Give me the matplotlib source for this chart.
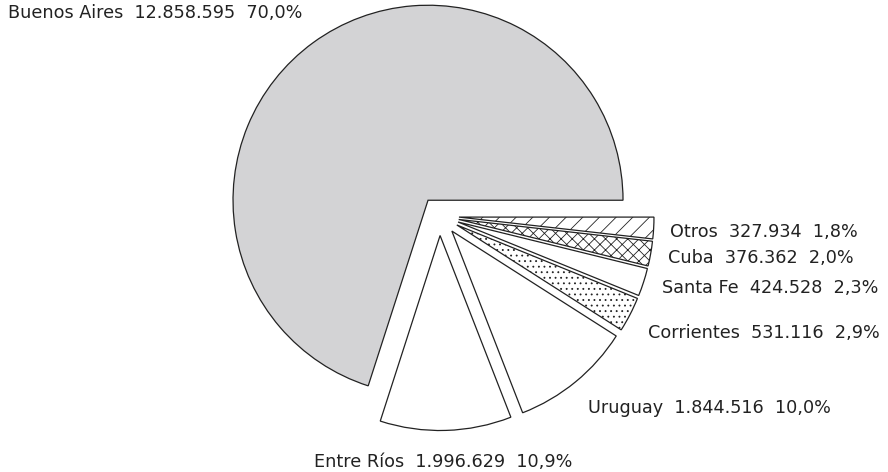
import matplotlib
matplotlib.use('Agg')
import matplotlib.pyplot as plt

# data
regions = ['Buenos Aires', 'Entre Ríos', 'Uruguay', 'Corrientes', 'Santa Fe', 'Cuba', 'Otros']
counts = [12858595, 1996629, 1844516, 531116, 424528, 376362, 327934]
count_labels = ['12.858.595', '1.996.629', '1.844.516', '531.116', '424.528', '376.362', '327.934']
pct_labels = ['70,0%', '10,9%', '10,0%', '2,9%', '2,3%', '2,0%', '1,8%']

colors = ['#d3d3d5', 'white', 'white', 'white', 'white', 'white', 'white']
hatches = ['', '', '', '...', '', 'xxx', '//']

# label anchor (pixels, left edge / vertical centre)
label_pos = [(8, 13), (314, 462), (588, 408), (648, 333), (662, 288), (668, 258), (670, 232)]

plt.rcParams['hatch.linewidth'] = 0.6
plt.rcParams['font.family'] = ['DejaVu Sans']

W, H = 888, 472
fig = plt.figure(figsize=(W / 100, H / 100), dpi=100)
ax = fig.add_axes([0, 0, 1, 1])

wedges, _ = ax.pie(counts, startangle=0, counterclock=True, explode=[0.1] * len(counts),
                   colors=colors, wedgeprops=dict(edgecolor='#222222', linewidth=0.9))
for w, h in zip(wedges, hatches):
    if h:
        w.set_hatch(h)

# centre of pie at pixel (439.5, 216), radius 195 px
cx, cy, r = 439.5, 216, 195
ax.set_xlim(-cx / r, (W - cx) / r)
ax.set_ylim(-(H - cy) / r, cy / r)
ax.set_aspect('equal')
ax.axis('off')

for name, c, p, (px, py) in zip(regions, count_labels, pct_labels, label_pos):
    fig.text(px / W, 1 - py / H, f'{name}  {c}  {p}', ha='left', va='center',
             fontsize=12.7, color='#222222')

fig.savefig('out.png', dpi=100)
